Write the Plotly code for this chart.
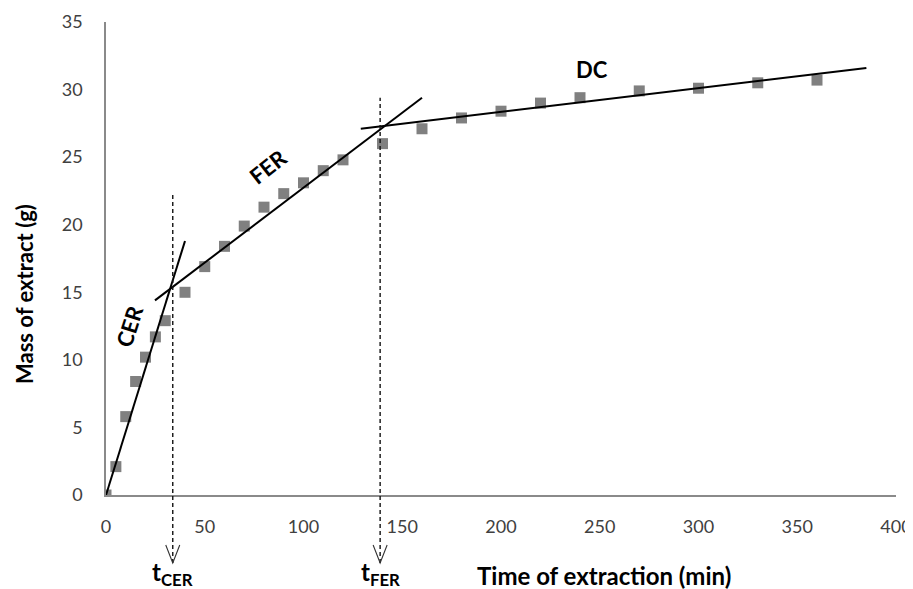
import plotly.graph_objects as go

# ---- data ----
time_min = [0, 5, 10, 15, 20, 25, 30, 40, 50, 60, 70, 80, 90, 100, 110, 120,
            140, 160, 180, 200, 220, 240, 270, 300, 330, 360]
mass_g = [0, 2.1, 5.8, 8.4, 10.2, 11.7, 12.9, 15.0, 16.9, 18.4, 19.9, 21.3, 22.3,
          23.1, 24.0, 24.8, 26.0, 27.1, 27.9, 28.4, 29.0, 29.4, 29.9, 30.1, 30.5, 30.7]

# fitted straight lines of the three periods (start / end points)
cer_t = [0, 40]
cer_m = [0, 18.8]
fer_t = [24.8, 160]
fer_m = [14.4, 29.4]
dc_t = [129, 385]
dc_m = [27.1, 31.6]

# characteristic times and the top of their dashed markers
t_cer, t_cer_top = 33.8, 22.3
t_fer, t_fer_top = 138.8, 29.4

x_ticks = [0, 50, 100, 150, 200, 250, 300, 350, 400]
y_ticks = [0, 5, 10, 15, 20, 25, 30, 35]

X_MAX, Y_MAX = 400, 35
FONT = "Lato"

fig = go.Figure()

fig.add_trace(go.Scatter(x=time_min, y=mass_g, mode="markers",
                         marker=dict(symbol="square", size=11, color="#808080"),
                         showlegend=False, hoverinfo="skip"))
for tt, mm in [(cer_t, cer_m), (fer_t, fer_m), (dc_t, dc_m)]:
    fig.add_trace(go.Scatter(x=tt, y=mm, mode="lines",
                             line=dict(color="black", width=2),
                             showlegend=False, hoverinfo="skip"))

# the page body has an 8px margin, so the figure is 8px smaller than the window
PAGE_OFF = 8
W, H = 913 - PAGE_OFF, 589 - PAGE_OFF
ML, MR, MT, MB = 106 - PAGE_OFF, 17, 22 - PAGE_OFF, 94
PH = H - MT - MB
PW = W - ML - MR


def px_down(p):
    """paper y for p pixels below the x axis"""
    return -p / PH


def px_left(p):
    """paper x for p pixels left of the y axis"""
    return -p / PW


shapes = []
for tx, top in [(t_cer, t_cer_top), (t_fer, t_fer_top)]:
    shapes.append(dict(type="line", xref="x", yref="paper",
                       x0=tx, x1=tx, y0=px_down(68), y1=top / Y_MAX,
                       line=dict(color="#111111", width=1.4, dash="4px,3px")))
    hw = 7 * X_MAX / PW
    shapes.append(dict(type="path", xref="x", yref="paper",
                       path=f"M {tx - hw},{px_down(50)} L {tx},{px_down(68)} L {tx + hw},{px_down(50)}",
                       line=dict(color="#333333", width=1.1)))

C = dict(xanchor="center", yanchor="middle", showarrow=False)
annotations = [
    dict(text="<b>CER</b>", x=11.6, y=12.5, xref="x", yref="y",
         textangle=-72, font=dict(family=FONT, size=22, color="black"), **C),
    dict(text="<b>FER</b>", x=82, y=24.3, xref="x", yref="y",
         textangle=-38, font=dict(family=FONT, size=22, color="black"), **C),
    dict(text="<b>DC</b>", x=246, y=31.5, xref="x", yref="y",
         font=dict(family=FONT, size=22, color="black"), **C),
    dict(text="<b>t<sub>CER</sub></b>", x=t_cer, y=px_down(78), xref="x", yref="paper",
         font=dict(family=FONT, size=24, color="black"), **C),
    dict(text="<b>t<sub>FER</sub></b>", x=t_fer, y=px_down(78), xref="x", yref="paper",
         font=dict(family=FONT, size=24, color="black"), **C),
    dict(text="<b>Time of extraction (min)</b>", x=(604 - 106) / PW, y=px_down(80),
         xref="paper", yref="paper",
         font=dict(family=FONT, size=24, color="black"), **C),
    dict(text="<b>Mass of extract (g)</b>", x=px_left(106 - 24), y=(495 - 294) / PH,
         xref="paper", yref="paper", textangle=-90,
         font=dict(family=FONT, size=22, color="black"), **C),
]

fig.update_layout(
    width=W, height=H,
    margin=dict(l=ML, r=MR, t=MT, b=MB, autoexpand=False),
    paper_bgcolor="white", plot_bgcolor="white",
    shapes=shapes, annotations=annotations,
    showlegend=False,
    font=dict(family=FONT),
)
fig.update_xaxes(range=[0, X_MAX], tickvals=x_ticks, showgrid=False, zeroline=False,
                 showline=True, linecolor="#8a8a8a", linewidth=1.5, ticks="",
                 ticklabelstandoff=15, automargin=False,
                 tickfont=dict(family=FONT, size=18, color="#404040"))
fig.update_yaxes(range=[0, Y_MAX], tickvals=y_ticks, showgrid=False, zeroline=False,
                 showline=True, linecolor="#8a8a8a", linewidth=1.5, ticks="",
                 ticklabelstandoff=18, automargin=False,
                 tickfont=dict(family=FONT, size=18, color="#404040"))

fig.write_html("out.html")
